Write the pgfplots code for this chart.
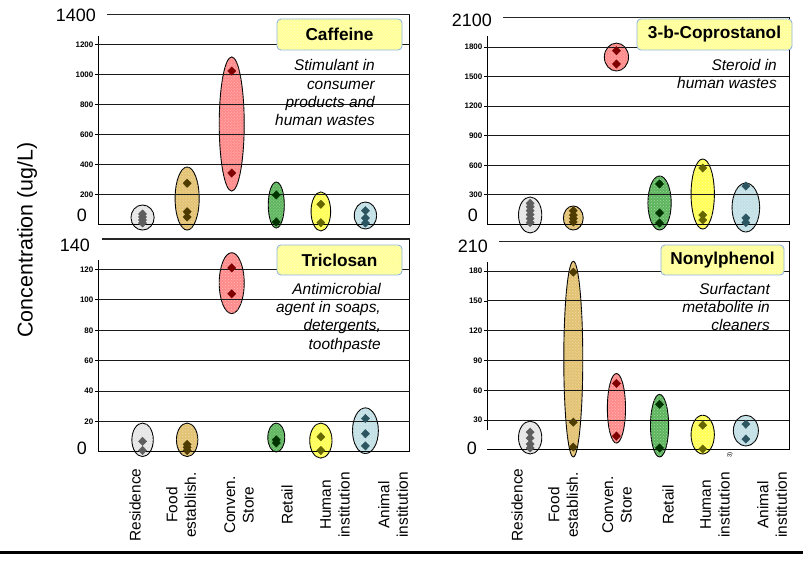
\documentclass[border=0pt]{standalone}
\usepackage{pgfplots}
\pgfplotsset{compat=1.18}
\usepackage{fontspec}
\setmainfont{Liberation Sans}
\usetikzlibrary{patterns}
\definecolor{resF}{HTML}{E6E6E6}\definecolor{resM}{HTML}{5E5E5E}
\definecolor{fooF}{HTML}{E3C272}\definecolor{fooM}{HTML}{4D3B00}
\definecolor{conF}{HTML}{FF8A8A}\definecolor{conM}{HTML}{7F0000}
\definecolor{retF}{HTML}{5DB55D}\definecolor{retM}{HTML}{003300}
\definecolor{humF}{HTML}{FFFF55}\definecolor{humM}{HTML}{666600}
\definecolor{aniF}{HTML}{C2E0E6}\definecolor{aniM}{HTML}{2B5560}
\definecolor{boxF}{HTML}{FFFF99}\definecolor{boxB}{HTML}{8DB3E2}
% envelope: x, low, high, x radius, colour
\newcommand{\envel}[5]{%
  \pgfmathsetmacro\envc{(#2+#3)/2}%
  \pgfmathsetmacro\envr{(#3-#2)/2}%
  \edef\envtmp{\noexpand\draw[line width=0.9bp, black, fill=#5F, postaction={pattern=crosshatch dots, pattern color=white, fill opacity=0.45}] (axis cs:#1,\envc) ellipse [x radius=#4, y radius=\envr];}%
  \envtmp}
\newcommand{\pts}[2]{\addplot[only marks, mark=diamond*, mark size=4.2bp, draw=#1M, fill=#1M, mark options={line width=0.4bp, xscale=1.3}] coordinates {#2};}
\newcommand{\bigf}{\fontsize{18}{21}\selectfont}
\newcommand{\titf}{\fontsize{17.3}{20}\selectfont\bfseries}
\newcommand{\desf}{\fontsize{15.5}{18.4}\selectfont\itshape}
\newcommand{\labf}{\fontsize{15.5}{18.6}\selectfont}
\pgfplotsset{panel/.style={
  scale only axis, anchor=south west, clip=false,
  xmin=0, ymin=0, enlargelimits=false,
  xtick=\empty, ytick pos=left,
  axis line style={draw=none},
  ymajorgrids, grid style={draw=black!90, line width=1bp},
  tick align=outside, major tick length=3bp,
  ytick style={draw=black, line width=0.9bp},
  yticklabel style={font=\fontsize{8}{9}\selectfont\bfseries, inner sep=1.5bp},
  /pgf/number format/assume math mode=true,
  /pgf/number format/1000 sep={},
  axis on top,
}}
\begin{document}
\begin{tikzpicture}[x=1bp,y=1bp]
\useasboundingbox (0bp,0bp) rectangle (803bp,562bp);
% ---------------- Caffeine
\begin{axis}[panel, at={(98bp,337.5bp)}, width=312bp, height=210bp, xmax=7, ymax=1400, ytick={200,400,...,1200}]
\envel{1}{-37}{130}{0.26}{res}
\envel{2}{-37}{383}{0.27}{foo}
\envel{3}{223}{1117}{0.28}{con}
\envel{4}{-23}{283}{0.18}{ret}
\envel{5}{-43}{217}{0.22}{hum}
\envel{6}{-30}{150}{0.25}{ani}
\pts{res}{(1,10)(1,30)(1,50)(1,70)}
\pts{foo}{(2,275)(2,85)(2,50)}
\pts{con}{(3,1023)(3,343)}
\pts{ret}{(4,197)(4,17)}
\pts{hum}{(5,135)(5,12)}
\pts{ani}{(6,92)(6,43)(6,10)}
\draw[line width=1bp] (axis cs:0,0) -- (axis cs:7,0) -- (axis cs:7,1400);
\draw[line width=1.4bp, black!85] (axis cs:0.2,1400) -- (axis cs:7,1400);
\draw[line width=1bp] (axis cs:0,0) -- (axis cs:0,1257);
\end{axis}
% ---------------- 3-b-Coprostanol
\begin{axis}[panel, at={(487bp,337.5bp)}, width=302bp, height=207bp, xmax=7, ymax=2100, ytick={300,600,...,1800}]
\envel{1}{-86}{279}{0.27}{res}
\envel{2}{-56}{188}{0.23}{foo}
\envel{3}{1557}{1840}{0.28}{con}
\envel{4}{-56}{492}{0.27}{ret}
\envel{5}{-46}{664}{0.27}{hum}
\envel{6}{-76}{421}{0.32}{ani}
\pts{res}{(1,20)(1,60)(1,100)(1,140)(1,180)(1,215)}
\pts{foo}{(2,25)(2,60)(2,95)(2,140)}
\pts{con}{(3,1763)(3,1628)}
\pts{ret}{(4,411)(4,117)(4,15)}
\pts{hum}{(5,573)(5,96)(5,46)}
\pts{ani}{(6,390)(6,66)(6,20)}
\draw[line width=1bp] (axis cs:0,0) -- (axis cs:7,0) -- (axis cs:7,2100);
\draw[line width=1.4bp, black!85] (axis cs:0.37,2100) -- (axis cs:7,2100);
\draw[line width=1bp] (axis cs:0,0) -- (axis cs:0,1911);
\end{axis}
% ---------------- Triclosan
\begin{axis}[panel, at={(98bp,110bp)}, width=312bp, height=213bp, xmax=7, ymax=140, ytick={20,40,...,120}]
\envel{1}{-3}{19}{0.24}{res}
\envel{2}{-3}{19}{0.24}{foo}
\envel{3}{91}{131}{0.28}{con}
\envel{4}{0}{19}{0.19}{ret}
\envel{5}{-4}{19}{0.25}{hum}
\envel{6}{-1}{29}{0.29}{ani}
\pts{res}{(1,7)(1,1)}
\pts{foo}{(2,5)(2,3)(2,1)}
\pts{con}{(3,121)(3,104)}
\pts{ret}{(4,8)(4,6)}
\pts{hum}{(5,10)(5,1)}
\pts{ani}{(6,22)(6,12)(6,4)}
\draw[line width=1bp] (axis cs:0,0) -- (axis cs:7,0) -- (axis cs:7,140);
\draw[line width=1.4bp, black!85] (axis cs:0.09,140) -- (axis cs:7,140);
\draw[line width=1bp] (axis cs:0,0) -- (axis cs:0,126);
\end{axis}
% ---------------- Nonylphenol
\begin{axis}[panel, at={(487bp,112bp)}, width=302bp, height=208.6bp, xmax=7, ymax=210, ytick={30,60,...,180}]
\envel{1}{-4}{29}{0.27}{res}
\envel{2}{-7}{190}{0.22}{foo}
\envel{3}{7}{77}{0.21}{con}
\envel{4}{-7}{56}{0.21}{ret}
\envel{5}{-4}{35}{0.27}{hum}
\envel{6}{4}{35}{0.29}{ani}
\pts{res}{(1,18)(1,12)(1,6)(1,2)}
\pts{foo}{(2,179)(2,28)(2,3)}
\pts{con}{(3,67)(3,14)}
\pts{ret}{(4,46)(4,2)}
\pts{hum}{(5,25)(5,1)}
\pts{ani}{(6,26)(6,11)}
\draw[line width=1bp] (axis cs:0,0) -- (axis cs:7,0) -- (axis cs:7,210);
\draw[line width=1.4bp, black!85] (axis cs:0.28,210) -- (axis cs:7,210);
\draw[line width=1bp] (axis cs:0,20) -- (axis cs:0,189);
\end{axis}
% ---------------- big axis end labels
\node[anchor=east, inner sep=0, font=\bigf] at (96bp,547bp) {1400};
\node[anchor=east, inner sep=0, font=\bigf] at (87bp,347bp) {0};
\node[anchor=east, inner sep=0, font=\bigf] at (492bp,541.3bp) {2100};
\node[anchor=east, inner sep=0, font=\bigf] at (478bp,347bp) {0};
\node[anchor=east, inner sep=0, font=\bigf] at (90bp,317bp) {140};
\node[anchor=east, inner sep=0, font=\bigf] at (87bp,114bp) {0};
\node[anchor=east, inner sep=0, font=\bigf] at (488bp,316bp) {210};
\node[anchor=east, inner sep=0, font=\bigf] at (477bp,114bp) {0};
% ---------------- titles
\tikzset{ttl/.style={draw=boxB, line width=0.9bp, rounded corners=4bp, fill=boxF,
  postaction={pattern=crosshatch dots, pattern color=white, fill opacity=0.5},
  inner sep=0, font=\titf}}
\node[ttl, minimum width=125bp, minimum height=31bp] at (339.5bp,527.5bp) {Caffeine};
\node[ttl, minimum width=155bp, minimum height=31bp] at (714.5bp,527.5bp) {3-b-Coprostanol};
\node[ttl, minimum width=125bp, minimum height=30bp] at (339.5bp,302bp) {Triclosan};
\node[ttl, minimum width=123bp, minimum height=30bp] at (722.5bp,302bp) {Nonylphenol};
% ---------------- descriptions
\tikzset{dsc/.style={anchor=base east, inner sep=0, font=\desf}}
\node[dsc] at (375bp,491.3bp) {Stimulant in};
\node[dsc] at (375bp,472.9bp) {consumer};
\node[dsc] at (375bp,454.5bp) {products and};
\node[dsc] at (375bp,436.1bp) {human wastes};
\node[dsc] at (777bp,491.3bp) {Steroid in};
\node[dsc] at (777bp,473.2bp) {human wastes};
\node[dsc] at (381bp,267.7bp) {Antimicrobial};
\node[dsc] at (381bp,249.4bp) {agent in soaps,};
\node[dsc] at (381bp,231.1bp) {detergents,};
\node[dsc] at (381bp,212.8bp) {toothpaste};
\node[dsc] at (770bp,267.7bp) {Surfactant};
\node[dsc] at (770bp,249.4bp) {metabolite in};
\node[dsc] at (770bp,231.1bp) {cleaners};
% ---------------- category labels
\tikzset{cat/.style={rotate=90, anchor=center, align=center, inner sep=0, font=\labf}}
\node[cat] at (135bp,57bp) {Residence};
\node[cat] at (181bp,57bp) {Food\\establish.};
\node[cat] at (239bp,57bp) {Conven.\\Store};
\node[cat] at (287bp,57bp) {Retail};
\node[cat] at (335bp,57bp) {Human\\institution};
\node[cat] at (393bp,57bp) {Animal\\institution};
\node[cat] at (517bp,57bp) {Residence};
\node[cat] at (563bp,57bp) {Food\\establish.};
\node[cat] at (617bp,57bp) {Conven.\\Store};
\node[cat] at (668bp,57bp) {Retail};
\node[cat] at (715bp,57bp) {Human\\institution};
\node[cat] at (772bp,57bp) {Animal\\institution};
\node[rotate=90, inner sep=0, font=\fontsize{6}{7}\selectfont] at (730bp,107bp) {3)};
% ---------------- y label
\node[rotate=90, inner sep=0, font=\fontsize{21.5}{24}\selectfont] at (27bp,322bp) {Concentration (ug/L)};
% ---------------- bottom rule
\draw[line width=3bp] (0bp,9bp) -- (803bp,9bp);
\end{tikzpicture}
\end{document}
